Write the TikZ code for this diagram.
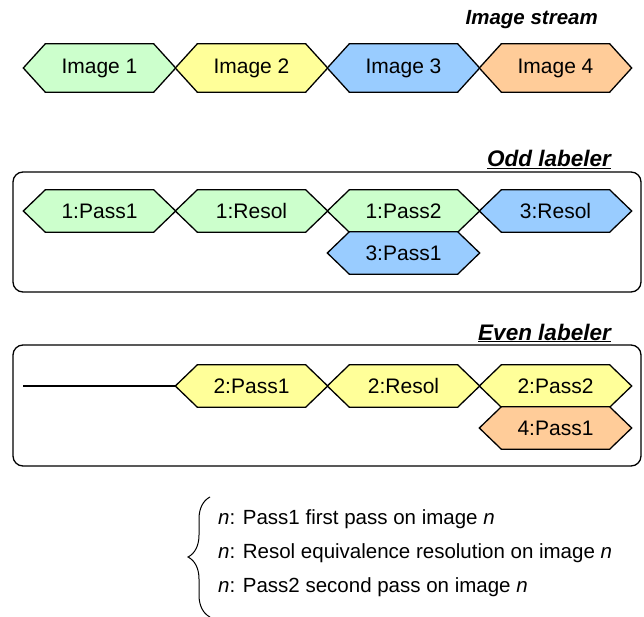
\documentclass[tikz,border=0pt]{standalone}
\usepackage{fontspec}
\setmainfont{Liberation Sans}
\usetikzlibrary{calc,backgrounds,decorations.pathreplacing}

\definecolor{hexgreen}{HTML}{CCFFCC}
\definecolor{hexyellow}{HTML}{FFFF99}
\definecolor{hexblue}{HTML}{99CCFF}
\definecolor{hexorange}{HTML}{FFCC99}

\tikzset{
  outline/.style={draw=black, line width=1.3pt, line join=miter},
  celltext/.style={inner sep=0pt, minimum width=152pt, font=\fontsize{21}{25}\selectfont},
  stagebox/.style={draw=black, line width=1.3pt, rounded corners=10pt, inner sep=0pt},
  heading/.style={inner sep=0pt, anchor=base east, font=\fontsize{20.5}{25}\selectfont\bfseries\itshape},
  stageheading/.style={heading, font=\fontsize{22.5}{26}\selectfont\bfseries\itshape},
  legendtext/.style={inner sep=0pt, anchor=base west, font=\fontsize{20.5}{24}\selectfont},
}

% A hexagonal pipeline cell: name, x, y, height, fill colour, label
\newcommand\hexcell[6]{%
  \node[celltext, minimum height=#4pt] (#1) at (#2,#3) {#6};
  \begin{scope}[on background layer]
    \filldraw[outline, fill=#5] (#1.west) -- ([xshift=22pt]#1.north west)
      -- ([xshift=-22pt]#1.north east) -- (#1.east)
      -- ([xshift=-22pt]#1.south east) -- ([xshift=22pt]#1.south west) -- cycle;
  \end{scope}
}

\begin{document}
\begin{tikzpicture}[x=1pt, y=-1pt]
\useasboundingbox (0,0) rectangle (644,617);

% Image stream
\node[heading] (streamtitle) at (598,25) {Image stream};
\hexcell{img1}{99.5}{68}{48}{hexgreen}{Image 1}
\hexcell{img2}{251.5}{68}{48}{hexyellow}{Image 2}
\hexcell{img3}{403.5}{68}{48}{hexblue}{Image 3}
\hexcell{img4}{555.5}{68}{48}{hexorange}{Image 4}

% Odd labeler
\node[stagebox, minimum width=628pt, minimum height=120pt] (oddbox) at (327,232) {};
\node[stageheading] (oddtitle) at (611,167) {\underline{Odd labeler}};
\hexcell{oddpassA}{99.5}{211}{42}{hexgreen}{1:Pass1}
\hexcell{oddresolA}{251.5}{211}{42}{hexgreen}{1:Resol}
\hexcell{oddpassB}{403.5}{211}{42}{hexgreen}{1:Pass2}
\hexcell{oddresolC}{555.5}{211}{42}{hexblue}{3:Resol}
\hexcell{oddpassC}{403.5}{253}{42}{hexblue}{3:Pass1}

% Even labeler
\node[stagebox, minimum width=628pt, minimum height=121pt] (evenbox) at (327,405.5) {};
\node[stageheading] (eventitle) at (611,340) {\underline{Even labeler}};
\hexcell{evenpassA}{251.5}{386}{42}{hexyellow}{2:Pass1}
\hexcell{evenresolA}{403.5}{386}{42}{hexyellow}{2:Resol}
\hexcell{evenpassB}{555.5}{386}{42}{hexyellow}{2:Pass2}
\hexcell{evenpassC}{555.5}{428}{42}{hexorange}{4:Pass1}
\coordinate (idlestart) at (23,386);
\draw[outline] (idlestart) -- (evenpassA.west);

% Legend
\coordinate (bracebot) at (210,617);
\coordinate (bracetop) at (210,497);
\draw[line width=1pt, decorate, decoration={brace, amplitude=22pt}] (bracebot) -- (bracetop);
\node[legendtext] (legA) at (218,524) {\textit{n}: Pass1 first pass on image \textit{n}};
\node[legendtext] (legB) at (218,558) {\textit{n}: Resol equivalence resolution on image \textit{n}};
\node[legendtext] (legC) at (218,592) {\textit{n}: Pass2 second pass on image \textit{n}};
\end{tikzpicture}
\end{document}
